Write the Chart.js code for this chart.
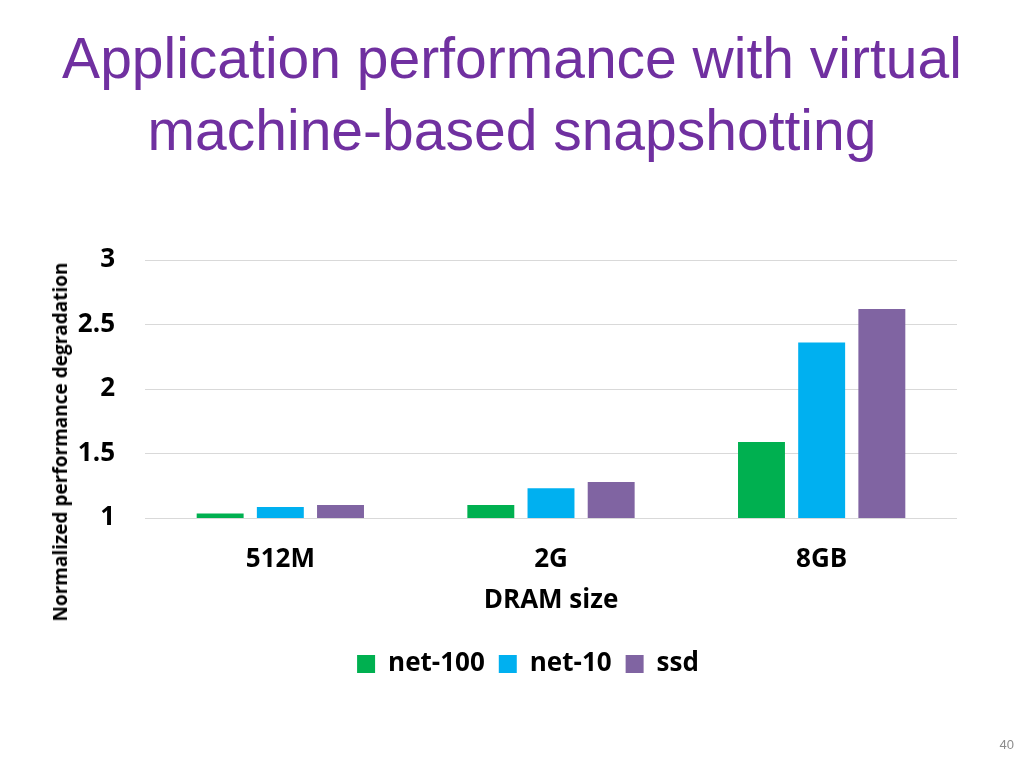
<!DOCTYPE html>
<html lang="en">
<head>
  <meta charset="UTF-8" />
  <title>Application performance with virtual machine-based snapshotting</title>
  <script src="https://cdn.jsdelivr.net/npm/chart.js"></script>
  <style>
    html, body { margin: 0; padding: 0; background: #fff; }
    body { width: 1024px; height: 768px; position: relative; overflow: hidden; }
    #titulo {
      position: absolute; left: 0; top: 22px; width: 1024px;
      text-align: center; color: #7030A0;
      font-family: "Liberation Sans", Arial, sans-serif;
      font-size: 57px; line-height: 72px;
    }
    #eje-y {
      position: absolute; left: 60px; top: 442px;
      transform: translate(-50%, -50%) rotate(-90deg);
      white-space: nowrap; color: #000;
      font-family: "Open Sans", sans-serif; font-weight: bold; font-size: 19px;
    }
    #pagina {
      position: absolute; right: 10px; top: 737px;
      font-family: "Liberation Sans", Arial, sans-serif;
      font-size: 13px; color: #8c8c8c;
    }
    #wrap { position: absolute; left: 0; top: 0; width: 1024px; height: 768px; }
  </style>
</head>
<body>
  <div id="titulo">Application performance with virtual<br>machine-based snapshotting</div>
  <div id="wrap"><canvas id="grafica"></canvas></div>
  <div id="eje-y">Normalized performance degradation</div>
  <div id="pagina">40</div>

  <script>
    const categorias = ["512M", "2G", "8GB"];
    const net100 = [1.035, 1.10, 1.59];
    const net10 = [1.085, 1.23, 2.36];
    const ssd = [1.10, 1.28, 2.62];
    const ticksY = [1, 1.5, 2, 2.5, 3];

    const fuente = "'Open Sans', sans-serif";

    // la leyenda del original no está centrada en la página
    const moverLeyenda = {
      id: "moverLeyenda",
      afterLayout(chart) {
        chart.legend.left += 27;
        chart.legend.right += 27;
      }
    };

    const ctx = document.getElementById("grafica").getContext("2d");
    new Chart(ctx, {
      type: "bar",
      data: {
        labels: categorias,
        datasets: [
          { label: "net-100", data: net100, backgroundColor: "#00B050" },
          { label: "net-10", data: net10, backgroundColor: "#00B0F0" },
          { label: "ssd", data: ssd, backgroundColor: "#8064A2" }
        ]
      },
      options: {
        responsive: true,
        maintainAspectRatio: false,
        animation: false,
        datasets: { bar: { categoryPercentage: 0.667, barPercentage: 0.78 } },
        layout: { padding: { top: 260, left: 45, right: 67, bottom: 81 } },
        scales: {
          x: {
            grid: { display: false },
            border: { display: false },
            ticks: { color: "#000", font: { family: fuente, size: 26, weight: "bold", lineHeight: 1 }, padding: 21 },
            title: { display: true, text: "DRAM size", color: "#000", font: { family: fuente, size: 26, weight: "bold", lineHeight: 1 }, padding: { top: -6, bottom: 23 } }
          },
          y: {
            min: 1,
            max: 3,
            afterBuildTicks: axis => { axis.ticks = ticksY.map(v => ({ value: v })); },
            afterFit: axis => { axis.width = 100; },
            grid: { color: "#d9d9d9", lineWidth: 1, drawTicks: false },
            border: { display: false },
            ticks: {
              color: "#000", font: { family: fuente, size: 26, weight: "bold" }, padding: 30,
              callback: v => String(v)
            }
          }
        },
        plugins: {
          legend: {
            position: "bottom",
            labels: { color: "#000", boxWidth: 18, boxHeight: 18, padding: 14, font: { family: fuente, size: 26, weight: "bold" } }
          },
          tooltip: { enabled: false }
        }
      },
      plugins: [moverLeyenda]
    });
  </script>
</body>
</html>
